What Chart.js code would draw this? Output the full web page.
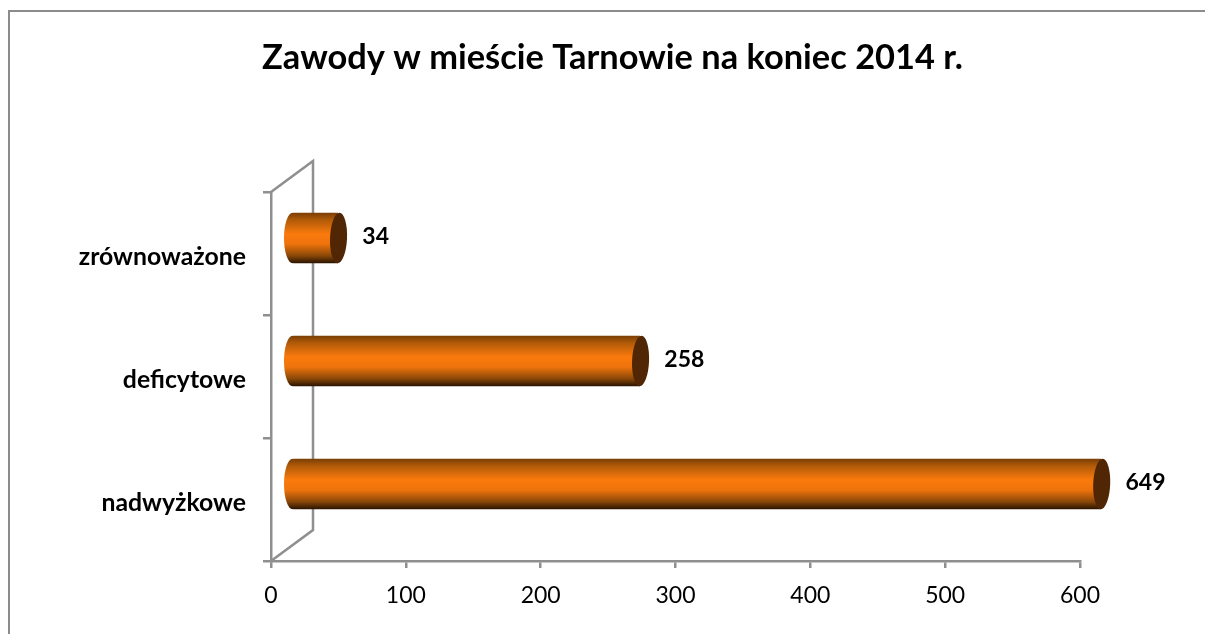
<!DOCTYPE html>
<html>
<head>
<meta charset="utf-8">
<script src="https://cdn.jsdelivr.net/npm/chart.js@4/dist/chart.umd.min.js"></script>
<style>
    html, body { margin: 0; padding: 0; background: #fff; overflow: hidden; }
    #frame { position: absolute; left: 8px; top: 10px; right: 0; bottom: 0; border-top: 2px solid #8c8c8c; border-left: 2px solid #8c8c8c; }
    #chart { position: absolute; left: 0; top: 0; }
</style>
</head>
<body>
<div id="frame"></div>
<canvas id="chart" width="1205" height="634"></canvas>
<script>
const titleText = 'Zawody w mieście Tarnowie na koniec 2014 r.';
const categories = ['zrównoważone', 'deficytowe', 'nadwyżkowe'];
const values = [34, 258, 649];
const axisMax = 600;
const axisStep = 100;

const fontName = 'Lato, "Open Sans", sans-serif';
const axisColor = '#8f8f8f';
const capColor = '#512605';
const barShare = 0.41;
const depthX = 42, depthY = 31;    // 3D wall offset, bars sit half way
const capRadius = 8.5;

function barGradient(chart, index) {
    const mid = chart.scales.y.getPixelForValue(index);
    const half = chart.scales.y.height / categories.length * barShare / 2;
    const g = chart.ctx.createLinearGradient(0, mid - half, 0, mid + half);
    g.addColorStop(0, '#7a3e05');
    g.addColorStop(0.14, '#b05a08');
    g.addColorStop(0.42, '#fb7a0d');
    g.addColorStop(0.62, '#ee730c');
    g.addColorStop(0.85, '#8a4808');
    g.addColorStop(1, '#2a1402');
    return g;
}

// back wall lines, then the cylinder ends and value labels
const cylinderPlugin = {
    id: 'cylinder',
    afterLayout(chart) {
        // title sits a bit right of the page centre
        chart.titleBlock.left = 20;
        chart.titleBlock.right = chart.width;
    },
    beforeDatasetsDraw(chart) {
        const { ctx, chartArea: a, scales } = chart;
        ctx.save();
        ctx.strokeStyle = axisColor;
        ctx.lineWidth = 2.5;
        ctx.beginPath();
        ctx.moveTo(a.left, a.top);
        ctx.lineTo(a.left + depthX, a.top - depthY);
        ctx.lineTo(a.left + depthX, a.bottom - depthY);
        ctx.lineTo(a.left, a.bottom);
        ctx.stroke();
        ctx.restore();
        ctx.save();
        ctx.translate(depthX / 2, -depthY / 2);
        chart.getDatasetMeta(0).data.forEach((el, i) => {
            ctx.fillStyle = barGradient(chart, i);
            ctx.beginPath();
            ctx.ellipse(scales.x.left + 0.5, el.y, capRadius, el.height / 2, 0, 0, Math.PI * 2);
            ctx.fill();
        });
    },
    afterDatasetsDraw(chart) {
        const { ctx, scales } = chart;
        chart.getDatasetMeta(0).data.forEach((el, i) => {
            const end = scales.x.getPixelForValue(Math.min(values[i], axisMax));
            ctx.fillStyle = capColor;
            ctx.beginPath();
            ctx.ellipse(end + 0.7, el.y, capRadius, el.height / 2, 0.04, 0, Math.PI * 2);
            ctx.fill();
        });
        ctx.restore();

        ctx.save();
        ctx.font = 'bold 23px ' + fontName;
        ctx.fillStyle = '#000';
        ctx.textBaseline = 'middle';
        chart.getDatasetMeta(0).data.forEach((el, i) => {
            const end = scales.x.getPixelForValue(Math.min(values[i], axisMax));
            ctx.fillText(String(values[i]), end + depthX / 2 + capRadius + 16, el.y - depthY / 2 - 1);
        });
        ctx.restore();
    }
};

new Chart(document.getElementById('chart').getContext('2d'), {
    type: 'bar',
    data: {
        labels: categories,
        datasets: [{
            data: values,
            backgroundColor: ctx => ctx.chart.chartArea ? barGradient(ctx.chart, ctx.dataIndex) : '#fb7a0d',
            borderWidth: 0,
            categoryPercentage: 1,
            barPercentage: barShare
        }]
    },
    options: {
        indexAxis: 'y',
        responsive: false,
        animation: false,
        layout: { padding: { left: 0, right: 125, top: 0, bottom: 0 } },
        plugins: {
            legend: { display: false },
            tooltip: { enabled: false },
            title: {
                display: true,
                text: titleText,
                color: '#000',
                font: { family: fontName, size: 34.4, weight: 'bold' },
                padding: { top: 37, bottom: 113.7 }
            }
        },
        scales: {
            x: {
                min: 0,
                max: axisMax,
                afterFit(scale) { scale.height = 73; },
                ticks: { stepSize: axisStep, color: '#000', font: { family: fontName, size: 23 }, padding: 14, maxRotation: 0 },
                grid: { drawOnChartArea: false, color: axisColor, lineWidth: 2.5, tickLength: 7 },
                border: { color: axisColor, width: 2.5 }
            },
            y: {
                afterFit(scale) { scale.width = 271; },
                ticks: { color: '#000', font: { family: fontName, size: 24.8, weight: 'bold' }, padding: 17, labelOffset: 3.5 },
                grid: { drawOnChartArea: false, color: axisColor, lineWidth: 2.5, tickLength: 8 },
                border: { color: axisColor, width: 2.5 }
            }
        }
    },
    plugins: [cylinderPlugin]
});
</script>
</body>
</html>
